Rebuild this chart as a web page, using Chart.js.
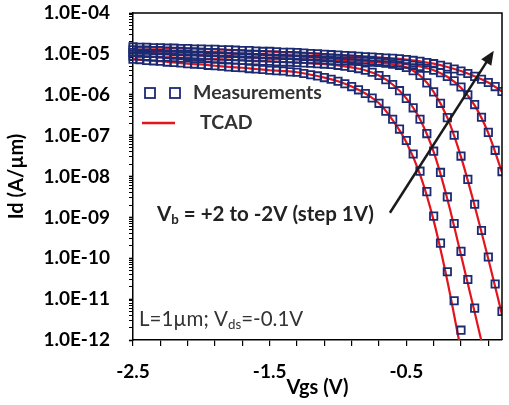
<!DOCTYPE html>
<html>
<head>
<meta charset="utf-8">
<script src="https://cdn.jsdelivr.net/npm/chart.js@4.4.1/dist/chart.umd.min.js"></script>
<style>
  html, body { margin: 0; padding: 0; background: #fff; }
</style>
</head>
<body>
<canvas id="myChart" width="509" height="405"></canvas>
<script>
// Vgs grid of the measured points (V)
const vgs = [-2.5, -2.45, -2.4, -2.35, -2.3, -2.25, -2.2, -2.15, -2.1, -2.05,
  -2, -1.95, -1.9, -1.85, -1.8, -1.75, -1.7, -1.65, -1.6, -1.55,
  -1.5, -1.45, -1.4, -1.35, -1.3, -1.25, -1.2, -1.15, -1.1, -1.05,
  -1, -0.95, -0.9, -0.85, -0.8, -0.75, -0.7, -0.65, -0.6, -0.55,
  -0.5, -0.45, -0.4, -0.35, -0.3, -0.25, -0.2, -0.15, -0.1, -0.05,
  0, 0.05, 0.1, 0.15, 0.2];

const measVbP2 = [-5.13, -5.14, -5.16, -5.17, -5.18, -5.20, -5.21, -5.22, -5.24, -5.25,
  -5.26, -5.28, -5.29, -5.30, -5.32, -5.33, -5.34, -5.36, -5.37, -5.38,
  -5.40, -5.41, -5.42, -5.44, -5.45, -5.48, -5.51, -5.54, -5.58, -5.62,
  -5.67, -5.73, -5.80, -5.88, -5.97, -6.08, -6.21, -6.40, -6.60, -6.84,
  -7.12, -7.45, -7.87, -8.37, -8.97, -9.63, -10.33, -11.04, -11.76, null,
  null, null, null, null, null];
const measVbP1 = [-5.05, -5.05, -5.06, -5.07, -5.08, -5.08, -5.09, -5.10, -5.10, -5.11,
  -5.12, -5.12, -5.13, -5.14, -5.14, -5.15, -5.16, -5.16, -5.17, -5.18,
  -5.18, -5.19, -5.20, -5.20, -5.21, -5.22, -5.23, -5.24, -5.25, -5.26,
  -5.28, -5.30, -5.33, -5.36, -5.40, -5.45, -5.53, -5.63, -5.75, -5.90,
  -6.09, -6.32, -6.60, -6.95, -7.38, -7.90, -8.50, -9.15, -9.83, -10.52,
  -11.22, null, null, null, null];
const measVb0 = [-4.97, -4.98, -4.98, -4.99, -4.99, -5.00, -5.01, -5.01, -5.02, -5.03,
  -5.03, -5.04, -5.05, -5.05, -5.06, -5.07, -5.07, -5.08, -5.09, -5.09,
  -5.10, -5.11, -5.11, -5.12, -5.13, -5.13, -5.14, -5.14, -5.15, -5.16,
  -5.17, -5.17, -5.18, -5.18, -5.19, -5.20, -5.21, -5.23, -5.25, -5.28,
  -5.33, -5.41, -5.53, -5.71, -5.93, -6.21, -6.56, -6.99, -7.50, -8.07,
  -8.68, -9.32, -9.97, -10.63, -11.30];
const measVbM1 = [-4.90, -4.91, -4.91, -4.92, -4.92, -4.93, -4.94, -4.94, -4.95, -4.95,
  -4.96, -4.97, -4.97, -4.98, -4.99, -4.99, -5.00, -5.01, -5.01, -5.02,
  -5.03, -5.03, -5.04, -5.04, -5.05, -5.06, -5.07, -5.08, -5.09, -5.10,
  -5.11, -5.12, -5.13, -5.14, -5.15, -5.16, -5.18, -5.19, -5.21, -5.23,
  -5.25, -5.28, -5.31, -5.35, -5.40, -5.46, -5.55, -5.66, -5.81, -6.00,
  -6.24, -6.55, -6.92, -7.36, -7.88];
const measVbM2 = [-4.83, -4.84, -4.84, -4.85, -4.85, -4.86, -4.86, -4.87, -4.87, -4.88,
  -4.88, -4.89, -4.89, -4.90, -4.90, -4.91, -4.92, -4.92, -4.93, -4.94,
  -4.94, -4.95, -4.96, -4.96, -4.97, -4.98, -4.99, -5.00, -5.01, -5.02,
  -5.03, -5.04, -5.05, -5.06, -5.07, -5.08, -5.09, -5.10, -5.11, -5.12,
  -5.14, -5.16, -5.18, -5.21, -5.24, -5.28, -5.32, -5.37, -5.42, -5.48,
  -5.55, -5.62, -5.70, -5.80, -5.92];

// TCAD curves, log10(Id), on a 0.1 V grid
const vgsTcad = [-2.5, -2.4, -2.3, -2.2, -2.1, -2, -1.9, -1.8, -1.7, -1.6,
  -1.5, -1.4, -1.3, -1.2, -1.1, -1, -0.9, -0.8, -0.7, -0.6,
  -0.5, -0.4, -0.3, -0.2, -0.1, 0, 0.1, 0.2];
const tcadVbP2 = [-5.13, -5.16, -5.18, -5.21, -5.24, -5.26, -5.29, -5.32, -5.34, -5.37,
  -5.40, -5.42, -5.45, -5.51, -5.58, -5.67, -5.80, -5.97, -6.21, -6.62,
  -7.16, -7.95, -9.08, -10.55, -12.25, -13.8, null, null];
const tcadVbP1 = [-5.05, -5.06, -5.08, -5.09, -5.10, -5.12, -5.13, -5.14, -5.16, -5.17,
  -5.18, -5.20, -5.21, -5.23, -5.25, -5.28, -5.33, -5.40, -5.53, -5.75,
  -6.09, -6.60, -7.40, -8.55, -9.92, -11.32, -12.75, null];
const tcadVb0 = [-4.97, -4.98, -4.99, -5.01, -5.02, -5.03, -5.05, -5.06, -5.07, -5.09,
  -5.10, -5.11, -5.13, -5.14, -5.15, -5.17, -5.18, -5.19, -5.21, -5.25,
  -5.33, -5.53, -5.93, -6.56, -7.52, -8.72, -10.02, -11.38];
const tcadVbM1 = [-4.90, -4.91, -4.92, -4.94, -4.95, -4.96, -4.97, -4.99, -5.00, -5.01,
  -5.03, -5.04, -5.05, -5.07, -5.09, -5.11, -5.13, -5.15, -5.18, -5.21,
  -5.25, -5.31, -5.40, -5.56, -5.83, -6.26, -6.94, -7.90];
const tcadVbM2 = [-4.83, -4.84, -4.85, -4.86, -4.87, -4.88, -4.89, -4.90, -4.92, -4.93,
  -4.94, -4.96, -4.97, -4.99, -5.01, -5.03, -5.05, -5.07, -5.09, -5.11,
  -5.14, -5.18, -5.24, -5.32, -5.42, -5.55, -5.70, -5.92];

// axis ticks
const xTickValues = [-2.5, -2.3, -2.1, -1.9, -1.7, -1.5, -1.3, -1.1, -0.9, -0.7, -0.5, -0.3, -0.1, 0.1];
const xTickLabels = ['-2.5', '', '', '', '', '-1.5', '', '', '', '', '-0.5', '', '', ''];
const yTickLabels = ['1.0E-12', '1.0E-11', '1.0E-10', '1.0E-09', '1.0E-08', '1.0E-07', '1.0E-06', '1.0E-05', '1.0E-04'];

const NAVY = '#1c2a72';
const RED = '#e3141c';
const FONT = "Lato, 'Open Sans', sans-serif";

const toPts = (xs, logs) => xs.map((v, i) => ({x: v, y: logs[i] == null ? null : Math.pow(10, logs[i])}));

const measSets = [measVbP2, measVbP1, measVb0, measVbM1, measVbM2];
const tcadSets = [tcadVbP2, tcadVbP1, tcadVb0, tcadVbM1, tcadVbM2];

// measurements first in the list -> drawn last (on top of the TCAD lines)
const datasets = [];
for (const m of measSets) {
  datasets.push({
    data: toPts(vgs, m),
    showLine: false,
    pointStyle: 'rect',
    pointRadius: 5.2,
    pointBorderWidth: 1.8,
    pointBorderColor: NAVY,
    pointBackgroundColor: 'rgba(255,255,255,0)',
    clip: {left: 8, top: 8, right: 0, bottom: 0}
  });
}
for (const t of tcadSets) {
  datasets.push({
    data: toPts(vgsTcad, t),
    borderColor: RED,
    borderWidth: 2.2,
    pointRadius: 0,
    cubicInterpolationMode: 'monotone',
    fill: false,
    clip: 0
  });
}

// minor + major ticks for the log axis
const yTickValues = [];
for (let e = -12; e < -4; e++) {
  for (let m = 1; m <= 9; m++) yTickValues.push(m * Math.pow(10, e));
}
yTickValues.push(1e-4);

const isDecade = (v) => {
  const e = Math.log10(v);
  return Math.abs(e - Math.round(e)) < 1e-6;
};

function drawRuns(ctx, x, y, parts, size, weight, color) {
  ctx.fillStyle = color;
  ctx.textBaseline = 'middle';
  ctx.textAlign = 'left';
  for (const p of parts) {
    const s = p.sub ? size * 0.65 : size;
    ctx.font = weight + ' ' + s + 'px ' + FONT;
    ctx.fillText(p.t, x, p.sub ? y + size * 0.3 : y);
    x += ctx.measureText(p.t).width;
  }
}

const noPad = (s) => { s.paddingTop = 0; s.paddingBottom = 0; s.paddingLeft = 0; s.paddingRight = 0; };

const overlay = {
  id: 'overlay',
  afterDatasetsDraw(chart) {
    const {ctx, chartArea: a} = chart;
    ctx.save();
    ctx.strokeStyle = '#000';
    ctx.lineWidth = 1.5;
    ctx.beginPath();
    ctx.moveTo(a.left, a.top);
    ctx.lineTo(a.right, a.top);
    ctx.lineTo(a.right, a.bottom);
    ctx.stroke();
    ctx.restore();
  },
  afterDraw(chart) {
    const {ctx} = chart;
    const xs = chart.scales.x, ys = chart.scales.y;
    ctx.save();

    // legend
    ctx.strokeStyle = NAVY;
    ctx.lineWidth = 1.8;
    ctx.strokeRect(145, 88, 10, 10);
    ctx.strokeRect(170, 88, 10, 10);
    drawRuns(ctx, 193, 93, [{t: 'Measurements'}], 19.5, 'bold', '#333');
    ctx.strokeStyle = RED;
    ctx.lineWidth = 2.5;
    ctx.beginPath();
    ctx.moveTo(142, 123);
    ctx.lineTo(175, 123);
    ctx.stroke();
    drawRuns(ctx, 200, 123, [{t: 'TCAD'}], 19.5, 'bold', '#333');

    // arrow across the curves
    const x0 = xs.getPixelForValue(-0.62), y0 = ys.getPixelForValue(1.3e-9);
    const x1 = xs.getPixelForValue(0.14), y1 = ys.getPixelForValue(1.2e-5);
    const ang = Math.atan2(y1 - y0, x1 - x0);
    ctx.strokeStyle = '#1a1a1a';
    ctx.fillStyle = '#1a1a1a';
    ctx.lineWidth = 2.5;
    ctx.beginPath();
    ctx.moveTo(x0, y0);
    ctx.lineTo(x1 - 10 * Math.cos(ang), y1 - 10 * Math.sin(ang));
    ctx.stroke();
    ctx.beginPath();
    ctx.moveTo(x1, y1);
    ctx.lineTo(x1 - 14 * Math.cos(ang) + 6 * Math.sin(ang), y1 - 14 * Math.sin(ang) - 6 * Math.cos(ang));
    ctx.lineTo(x1 - 14 * Math.cos(ang) - 6 * Math.sin(ang), y1 - 14 * Math.sin(ang) + 6 * Math.cos(ang));
    ctx.closePath();
    ctx.fill();

    drawRuns(ctx, 157, 214, [{t: 'V'}, {t: 'b', sub: true}, {t: ' = +2 to -2V (step 1V)'}], 20.5, 'bold', '#222');
    drawRuns(ctx, 139, 319, [{t: 'L=1\u00b5m; V'}, {t: 'ds', sub: true}, {t: '=-0.1V'}], 20.5, 'normal', '#333');
    ctx.restore();
  }
};

new Chart('myChart', {
  type: 'line',
  data: {datasets: datasets},
  options: {
    responsive: false,
    animation: false,
    devicePixelRatio: 1,
    layout: {padding: {top: 13, right: 2, left: 0, bottom: 0}},
    plugins: {legend: {display: false}, tooltip: {enabled: false}},
    scales: {
      x: {
        type: 'linear',
        min: -2.5,
        max: 0.2,
        afterBuildTicks: (s) => { s.ticks = xTickValues.map(v => ({value: v})); },
        afterFit: (s) => { s.height = 65; noPad(s); },
        grid: {drawOnChartArea: false, drawTicks: true, tickLength: 6, color: '#000', lineWidth: 1.2},
        border: {display: true, color: '#000', width: 1.5},
        ticks: {
          autoSkip: false, maxRotation: 0, padding: 14, color: '#000',
          font: {family: FONT, weight: 'bold', size: 19},
          callback: (v, i) => xTickLabels[i]
        },
        title: {
          display: true, text: 'Vgs (V)', color: '#000',
          font: {family: FONT, weight: 'bold', size: 20},
          padding: {top: 0, bottom: 5}
        }
      },
      y: {
        type: 'logarithmic',
        min: 1e-12,
        max: 1e-4,
        afterBuildTicks: (s) => { s.ticks = yTickValues.map(v => ({value: v})); },
        afterFit: (s) => { s.width = 133; noPad(s); },
        grid: {
          drawOnChartArea: false, drawTicks: true, tickLength: 4, color: '#000',
          tickWidth: (c) => (c.tick && isDecade(c.tick.value) ? 1.6 : 1)
        },
        border: {display: true, color: '#000', width: 1.5},
        ticks: {
          autoSkip: false, padding: 19, color: '#000',
          font: {family: FONT, weight: 'bold', size: 19},
          callback: (v) => isDecade(v) ? yTickLabels[Math.round(Math.log10(v)) + 12] : ''
        },
        title: {
          display: true, text: 'Id (A/\u00b5m)', color: '#000',
          font: {family: FONT, weight: 'bold', size: 20},
          padding: {top: 5, bottom: 0}
        }
      }
    }
  },
  plugins: [overlay]
});
</script>
</body>
</html>
